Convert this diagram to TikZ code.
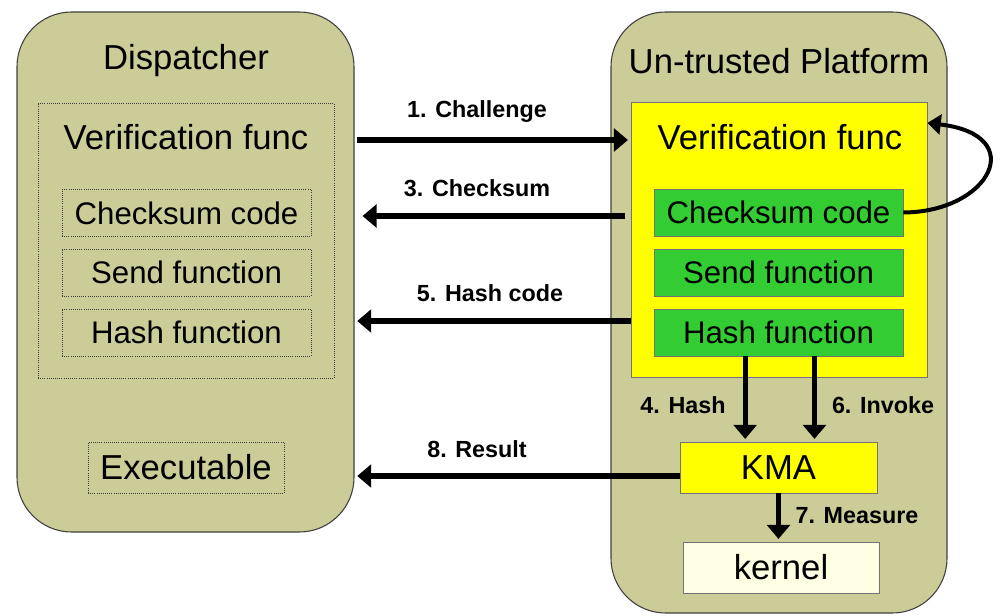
\documentclass[tikz,border=0pt]{standalone}
\usepackage{fontspec}
\setmainfont{Liberation Sans}
\usepackage{tikz}
\usetikzlibrary{arrows.meta, positioning, calc}
\definecolor{khaki}{RGB}{204,204,153}
\definecolor{vyellow}{RGB}{255,255,0}
\definecolor{fgreen}{RGB}{51,204,51}
\definecolor{cream}{RGB}{255,255,228}
\tikzset{
    platbox/.style={rectangle, rounded corners=41pt, draw=black!75,
                    fill=khaki, line width=0.8pt, inner sep=0pt},
    dotbox/.style={rectangle, draw=black!75, densely dotted,
                   line width=0.6pt, inner sep=0pt},
    dfbox/.style={dotbox, minimum width=186.75pt, minimum height=35.25pt,
                  font=\fontsize{23.4}{26}\selectfont},
    gfbox/.style={rectangle, draw=black!55, fill=fgreen, line width=0.6pt,
                  minimum width=186.75pt, minimum height=35.25pt,
                  inner sep=0pt, font=\fontsize{23.4}{26}\selectfont},
    ybox/.style={rectangle, draw=black!55, fill=vyellow, line width=0.6pt,
                 inner sep=0pt},
    ttl/.style={inner sep=0pt, font=\fontsize{26}{29}\selectfont},
    lbl/.style={inner sep=0pt, font=\bfseries\fontsize{17.5}{20}\selectfont},
    arr/.style={-{Triangle[length=10.5pt,width=17pt]}, line width=3.8pt,
                draw=black, shorten >=2pt},
    loop/.style={-{Triangle[length=10pt,width=15pt]}, line width=3pt, draw=black}
}

\begin{document}
\begin{tikzpicture}[x=0.75pt, y=-0.75pt]
\useasboundingbox (0,0) rectangle (1002,616);

% ── Containers ────────────────────────────────────────────────────────
\node[platbox, minimum width=252.75pt, minimum height=390pt]   at (185.5,272) (disp) {};
\node[platbox, minimum width=252pt,    minimum height=450.75pt] at (779,312.5) (plat) {};
\node[ttl] at (186,61) (dispttl) {Dispatcher};
\node[ttl] at (779,61) (platttl) {Un-trusted Platform};

% ── Dispatcher side ──────────────────────────────────────────────────
\node[dotbox, minimum width=222pt, minimum height=206.25pt] at (186,240.5) (vfL) {};
\node[ttl] at (186,137) (vfLttl) {Verification func};
\node[dfbox] at (186.5,213)   (chkL)  {Checksum code};
\node[dfbox] at (186.5,272.5) (sendL) {Send function};
\node[dfbox] at (186.5,332.5) (hashL) {Hash function};
\node[dotbox, minimum width=147pt, minimum height=38.25pt, font=\fontsize{26}{29}\selectfont]
      at (186,467.5) (exe) {Executable};

% ── Platform side ────────────────────────────────────────────────────
\node[ybox, minimum width=222pt, minimum height=206.25pt] at (779,239.5) (vfR) {};
\node[ttl] at (780,137) (vfRttl) {Verification func};
\node[gfbox] at (778.5,212.5) (chkR)  {Checksum code};
\node[gfbox] at (778.5,272.5) (sendR) {Send function};
\node[gfbox] at (778.5,332.5) (hashR) {Hash function};
\node[ybox, minimum width=147.75pt, minimum height=38.25pt, font=\fontsize{26}{29}\selectfont]
      at (778.5,467.5) (kma) {KMA};
\node[rectangle, draw=black!55, fill=cream, line width=0.6pt, inner sep=0pt,
      minimum width=147pt, minimum height=38.25pt, font=\fontsize{26}{29}\selectfont]
      at (781,567.5) (kernel) {kernel};

% ── Message rows ─────────────────────────────────────────────────────
\coordinate (r1) at (0,140);
\coordinate (r3) at (0,216);
\coordinate (r5) at (0,321);
\coordinate (r8) at (0,476);

\draw[arr] ([xshift=2pt]disp.east |- r1) -- (vfR.west |- r1);
\draw[arr] ([xshift=-4pt]vfR.west |- r3) -- ([xshift=4pt]disp.east |- r3);
\draw[arr] (vfR.west |- r5) -- (disp.east |- r5);
\draw[arr] (kma.west |- r8) -- (disp.east |- r8);

% ── Inside the platform ──────────────────────────────────────────────
\draw[arr] ([xshift=-25pt]hashR.south) -- ([xshift=-25pt]kma.north);
\draw[arr] ([xshift=27pt]hashR.south)  -- ([xshift=27pt]kma.north);
\draw[arr] (kma.south) -- (kma.south |- kernel.north);
\draw[loop] (chkR.east) .. controls (990,212) and (1030,135) .. ([yshift=-16pt]vfR.north east);

% ── Labels ───────────────────────────────────────────────────────────
\node[lbl] at (477,112) (l1) {1. Challenge};
\node[lbl] at (477,188) (l3) {3. Checksum};
\node[lbl] at (490,293) (l5) {5. Hash code};
\node[lbl] at (477,449) (l8) {8. Result};
\node[lbl] at (683,405) (l4) {4. Hash};
\node[lbl] at (883,405) (l6) {6. Invoke};
\node[lbl] at (857,516) (l7) {7. Measure};
\end{tikzpicture}
\end{document}
